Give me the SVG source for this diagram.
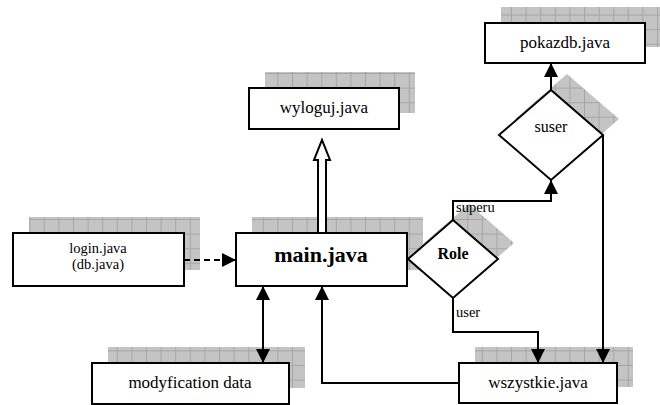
<svg xmlns="http://www.w3.org/2000/svg" width="660" height="405" viewBox="0 0 660 405">
<style>
.box{fill:#fff;stroke:#000;stroke-width:2}
.sh{fill:url(#grid)}
text{font-family:'Liberation Serif','Times New Roman','DejaVu Serif',serif;fill:#000}
.t{text-anchor:middle}
.lbl{font-size:14.5px}
.c{fill:none;stroke:#000;stroke-width:2}
</style>
<defs>
<pattern id="grid" patternUnits="userSpaceOnUse" width="14.6" height="14.6">
<rect width="14.6" height="14.6" fill="#c4c4c4"/>
<path d="M0,0.5 H14.6 M0.5,0 V14.6" stroke="#a6a6a6" stroke-width="1"/>
</pattern>
<marker id="arr" viewBox="0 0 14 14" refX="14" refY="7" markerWidth="14" markerHeight="14" markerUnits="userSpaceOnUse" orient="auto-start-reverse">
<path d="M0,0 L14,7 L0,14 z" fill="#000"/>
</marker>
</defs>
<g id="shadows">
<rect class="sh" x="29" y="217" width="171" height="53"/>
<rect class="sh" x="252" y="217" width="171" height="53"/>
<rect class="sh" x="265" y="72" width="150" height="41"/>
<rect class="sh" x="501" y="7" width="160" height="40"/>
<rect class="sh" x="108" y="347" width="197" height="41"/>
<rect class="sh" x="475" y="347" width="158" height="40"/>
<polygon class="sh" points="469,204 514,243 469,282 424,243"/>
<polygon class="sh" points="567,74 619,119 567,164 515,119"/>
</g>
<g id="login">
<rect class="box" x="13" y="233" width="171" height="53"/>
<text class="t" x="98" y="253" font-size="14.5">login.java</text>
<text class="t" x="98" y="269" font-size="14.5">(db.java)</text>
</g>
<g id="main">
<rect class="box" x="236" y="233" width="171" height="53"/>
<text class="t" x="321" y="262" font-size="22" font-weight="bold">main.java</text>
</g>
<g id="wyloguj">
<rect class="box" x="249" y="88" width="150" height="41"/>
<text class="t" x="324" y="113" font-size="17">wyloguj.java</text>
</g>
<g id="pokazdb">
<rect class="box" x="485" y="23" width="160" height="40"/>
<text class="t" x="565" y="48" font-size="17">pokazdb.java</text>
</g>
<g id="modyfication">
<rect class="box" x="92" y="363" width="197" height="41"/>
<text class="t" x="190" y="388" font-size="17">modyfication data</text>
</g>
<g id="wszystkie">
<rect class="box" x="459" y="363" width="158" height="40"/>
<text class="t" x="538" y="388" font-size="17">wszystkie.java</text>
</g>
<g id="role">
<polygon class="box" points="453,220 498,259 453,298 408,259"/>
<text class="t" x="453" y="259" font-size="16" font-weight="bold">Role</text>
</g>
<g id="suser">
<polygon class="box" points="551,90 603,135 551,180 499,135"/>
<text class="t" x="551" y="132" font-size="16">suser</text>
</g>
<g id="connectors">
<path class="c" d="M184,260 H236" stroke-dasharray="6,4" marker-end="url(#arr)"/>
<polygon points="318,233 318,160 314,160 322,140 330,160 326,160 326,233" fill="#fff" stroke="#000" stroke-width="2"/>
<path class="c" d="M453,220 V201 H551 V180" marker-end="url(#arr)"/>
<path class="c" d="M551,90 V63" marker-end="url(#arr)"/>
<path class="c" d="M603,135 V363" marker-end="url(#arr)"/>
<path class="c" d="M453,298 V332 H538 V363" marker-end="url(#arr)"/>
<path class="c" d="M459,383 H322 V286" marker-end="url(#arr)"/>
<path class="c" d="M263,286 V363" marker-start="url(#arr)" marker-end="url(#arr)"/>
<text class="lbl" x="456" y="212">superu</text>
<text class="lbl" x="456" y="317">user</text>
</g>
</svg>
